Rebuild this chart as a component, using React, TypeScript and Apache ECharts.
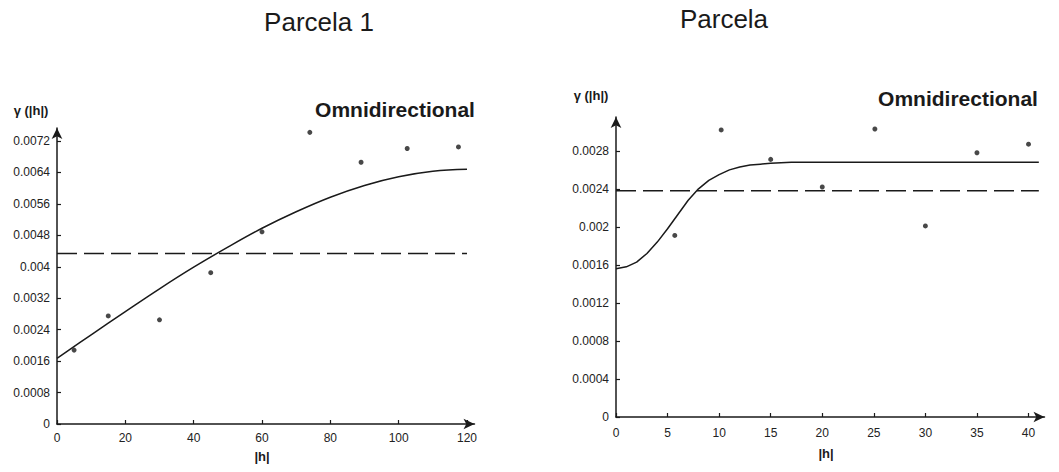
import React, { useEffect, useRef } from "react";
import * as echarts from "echarts";

// ---- Data ----
// Left panel: Parcela 1
const leftLagX = [5, 15, 30, 45, 60, 74, 89, 102.5, 117.5];
const leftGamma = [0.00188, 0.00275, 0.00265, 0.00385, 0.00489, 0.00742, 0.00666, 0.00701, 0.00705];
const leftModelX = [0, 10, 20, 30, 40, 50, 60, 70, 80, 90, 100, 110, 120];
const leftModelY = [0.00167, 0.00227, 0.00286, 0.00344, 0.00399, 0.0045, 0.00498, 0.0054, 0.00577, 0.00607, 0.00629, 0.00643, 0.00648];
const leftSill = 0.00434;
const leftSillX = [0, 120];
const leftXTicks = [0, 20, 40, 60, 80, 100, 120];
const leftYTicks = [0, 0.0008, 0.0016, 0.0024, 0.0032, 0.004, 0.0048, 0.0056, 0.0064, 0.0072];

// Right panel: Parcela
const rightLagX = [5.7, 10.2, 15, 20, 25.1, 30, 35, 40];
const rightGamma = [0.00191, 0.00302, 0.00271, 0.00242, 0.00303, 0.00201, 0.00278, 0.00287];
const rightModelX = [0, 1, 2, 3, 4, 5, 6, 7, 8, 9, 10, 11, 12, 13, 14, 15, 17, 20, 41];
const rightModelY = [0.00156, 0.00158, 0.00163, 0.00172, 0.00184, 0.00198, 0.00213, 0.00228, 0.0024, 0.00249, 0.00255, 0.0026, 0.00263, 0.00265, 0.00266, 0.00267, 0.00268, 0.00268, 0.00268];
const rightSill = 0.00238;
const rightSillX = [0, 41];
const rightXTicks = [0, 5, 10, 15, 20, 25, 30, 35, 40];
const rightYTicks = [0, 0.0004, 0.0008, 0.0012, 0.0016, 0.002, 0.0024, 0.0028];

const titles = ["Parcela 1", "Parcela"];
const subTitle = "Omnidirectional";
const yName = "γ (|h|)";
const xName = "|h|";

const INK = "#1a1a1a";
const FONT = "Liberation Sans, Arial, sans-serif";

function zip(xs: number[], ys: number[]) {
  return xs.map((x, i) => [x, ys[i]]);
}

function makeXAxis(gridIndex: number, max: number, ticks: number[], margin: number) {
  return {
    type: "value",
    gridIndex,
    min: 0,
    max,
    splitLine: { show: false },
    axisLine: {
      show: true,
      onZero: false,
      symbol: ["none", "arrow"],
      symbolSize: [8, 11],
      lineStyle: { color: INK, width: 1.5 },
    },
    axisTick: { show: true, inside: true, length: 4, customValues: ticks, lineStyle: { color: INK, width: 1.2 } },
    axisLabel: { customValues: ticks, margin, color: "#222", fontSize: 12, fontFamily: FONT },
  };
}

function makeYAxis(gridIndex: number, max: number, ticks: number[]) {
  return {
    type: "value",
    gridIndex,
    min: 0,
    max,
    splitLine: { show: false },
    axisLine: {
      show: true,
      onZero: false,
      symbol: ["none", "arrow"],
      symbolSize: [8, 11],
      lineStyle: { color: INK, width: 1.5 },
    },
    axisTick: { show: true, inside: true, length: 4, customValues: ticks, lineStyle: { color: INK, width: 1.2 } },
    axisLabel: {
      customValues: ticks,
      margin: 7,
      color: "#222",
      fontSize: 12,
      fontFamily: FONT,
      formatter: (v: number) => String(v),
    },
  };
}

function textEl(text: string, x: number, y: number, font: string) {
  return {
    type: "text",
    style: { text, x, y, font, fill: INK, textAlign: "center", textVerticalAlign: "middle" },
  };
}

export default function App() {
  const ref = useRef<HTMLDivElement>(null);

  useEffect(() => {
    if (!ref.current) return;
    const chart = echarts.init(ref.current, undefined, { renderer: "svg" });
    const lineStyleSolid = { color: INK, width: 1.5 };
    const lineStyleDash = { color: INK, width: 1.5, type: [20, 7] };
    chart.setOption({
      animation: false,
      backgroundColor: "#ffffff",
      grid: [
        { left: 57, top: 128, width: 417.5, height: 296 },
        { left: 616, top: 117, width: 428.5, height: 300 },
      ],
      xAxis: [makeXAxis(0, 122.2, leftXTicks, 8), makeXAxis(1, 41.55, rightXTicks, 10)],
      yAxis: [makeYAxis(0, 0.007531, leftYTicks), makeYAxis(1, 0.003156, rightYTicks)],
      series: [
        {
          type: "line",
          xAxisIndex: 0,
          yAxisIndex: 0,
          data: zip(leftModelX, leftModelY),
          smooth: 0.4,
          showSymbol: false,
          symbol: "none",
          lineStyle: lineStyleSolid,
        },
        {
          type: "line",
          xAxisIndex: 0,
          yAxisIndex: 0,
          data: leftSillX.map((x) => [x, leftSill]),
          symbol: "none",
          lineStyle: lineStyleDash,
        },
        {
          type: "scatter",
          xAxisIndex: 0,
          yAxisIndex: 0,
          data: zip(leftLagX, leftGamma),
          symbol: "circle",
          symbolSize: 5,
          itemStyle: { color: INK },
        },
        {
          type: "line",
          xAxisIndex: 1,
          yAxisIndex: 1,
          data: zip(rightModelX, rightModelY),
          smooth: false,
          showSymbol: false,
          symbol: "none",
          lineStyle: { ...lineStyleSolid, join: "round" },
        },
        {
          type: "line",
          xAxisIndex: 1,
          yAxisIndex: 1,
          data: rightSillX.map((x) => [x, rightSill]),
          symbol: "none",
          lineStyle: lineStyleDash,
        },
        {
          type: "scatter",
          xAxisIndex: 1,
          yAxisIndex: 1,
          data: zip(rightLagX, rightGamma),
          symbol: "circle",
          symbolSize: 5,
          itemStyle: { color: INK },
        },
      ],
      graphic: [
        textEl(titles[0], 319, 22, `26px ${FONT}`),
        textEl(titles[1], 724, 19, `26px ${FONT}`),
        textEl(subTitle, 395, 109, `bold 21px ${FONT}`),
        textEl(subTitle, 958, 98, `bold 21px ${FONT}`),
        textEl(yName, 31, 110, `bold 13px ${FONT}`),
        textEl(yName, 591, 95, `bold 13px ${FONT}`),
        textEl(xName, 262, 456, `bold 13px ${FONT}`),
        textEl(xName, 826, 453, `bold 13px ${FONT}`),
      ],
    });
    return () => chart.dispose();
  }, []);

  return <div ref={ref} style={{ width: 1059, height: 472, position: "absolute", left: 0, top: 0 }} />;
}
